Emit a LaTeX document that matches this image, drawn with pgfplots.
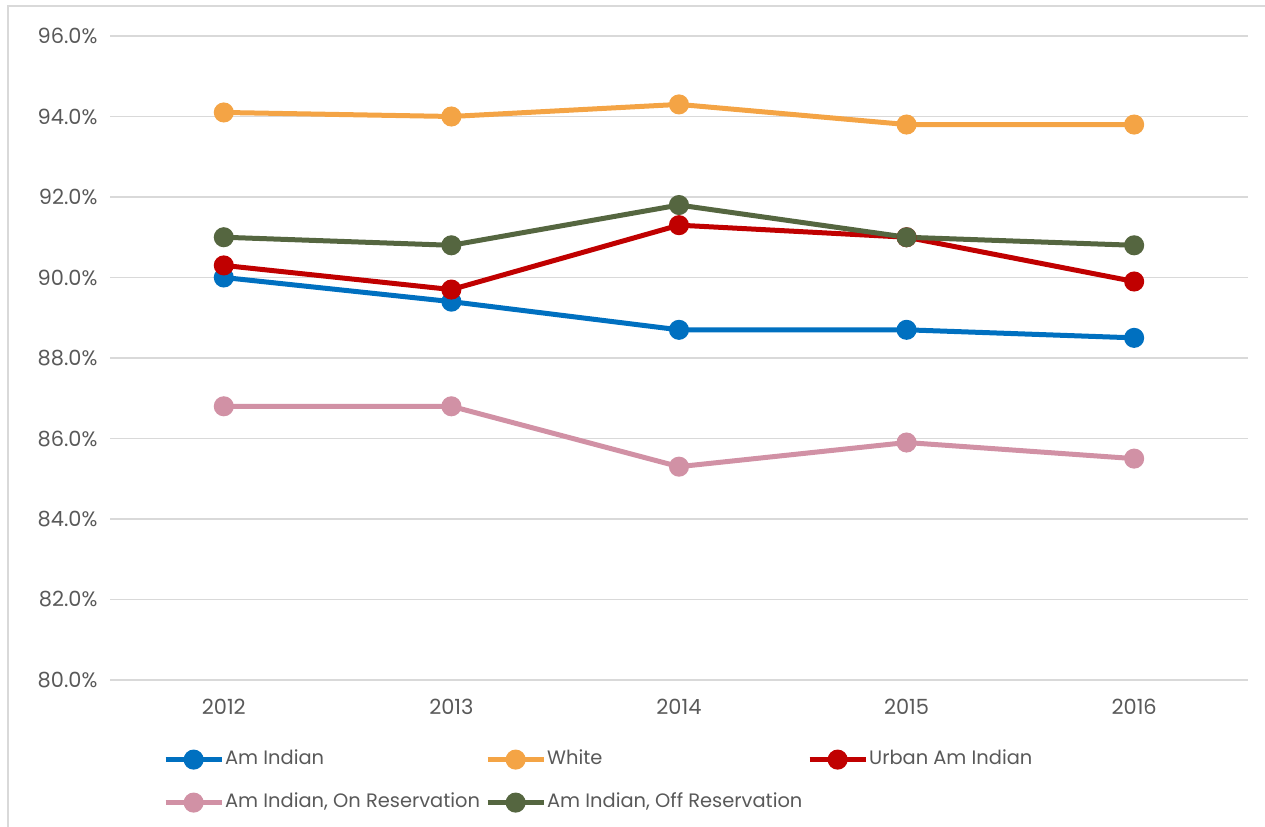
\documentclass[border=0pt]{standalone}
\usepackage{pgfplots}
\pgfplotsset{compat=1.18}
\usepackage{fontspec}
\setmainfont{Poppins}
\definecolor{cblue}{HTML}{0070C0}
\definecolor{corange}{HTML}{F4A445}
\definecolor{cred}{HTML}{C00000}
\definecolor{cpink}{HTML}{D191A5}
\definecolor{cgreen}{HTML}{556640}
\definecolor{gridc}{HTML}{D9D9D9}
\definecolor{txt}{HTML}{595959}
\begin{document}
\begin{tikzpicture}[x=1bp,y=1bp]
\useasboundingbox (0,0) rectangle (1265,827);
\draw[gridc, line width=1.5bp] (8,0) -- (8,821) -- (1265,821);
\begin{axis}[at={(110bp,147bp)}, anchor=south west, scale only axis,
 width=1138bp, height=644bp,
 xmin=-0.5, xmax=4.5, ymin=80, ymax=96,
 xtick={0,1,2,3,4}, xticklabels={2012,2013,2014,2015,2016},
 ytick={80,82,84,86,88,90,92,94,96},
 yticklabels={80.0\%,82.0\%,84.0\%,86.0\%,88.0\%,90.0\%,92.0\%,94.0\%,96.0\%},
 axis line style={draw=none}, major tick length=0,
 ymajorgrids, grid style={gridc, line width=1.5bp},
 tick label style={font=\fontsize{21}{25}\selectfont, text=txt},
 yticklabel style={xshift=-9bp},
 xticklabel style={yshift=-16bp},
 every axis plot/.append style={line width=5bp, mark=*, mark size=7.5bp},
 legend columns=3,
 legend image code/.code={\draw[#1, mark repeat=2, mark phase=2] plot coordinates {(0bp,0bp) (28bp,0bp) (56bp,0bp)};},
 legend style={draw=none, fill=none, at={(0.0439,-0.107)}, anchor=north west,
   font=\fontsize{19.5}{23}\selectfont, text=txt,
   nodes={inner sep=0pt, text height=13bp, text depth=4bp},
   column sep=1bp, row sep=26bp},
]
\addplot[cblue, mark options={draw=none, fill=cblue}] coordinates {(0,90.0) (1,89.4) (2,88.7) (3,88.7) (4,88.5)};
\addlegendentry{\makebox[259bp][l]{Am Indian}}
\addplot[corange, mark options={draw=none, fill=corange}] coordinates {(0,94.1) (1,94.0) (2,94.3) (3,93.8) (4,93.8)};
\addlegendentry{\makebox[259bp][l]{White}}
\addplot[cred, mark options={draw=none, fill=cred}] coordinates {(0,90.3) (1,89.7) (2,91.3) (3,91.0) (4,89.9)};
\addlegendentry{\makebox[259bp][l]{Urban Am Indian}}
\addplot[cpink, mark options={draw=none, fill=cpink}] coordinates {(0,86.8) (1,86.8) (2,85.3) (3,85.9) (4,85.5)};
\addlegendentry{\makebox[259bp][l]{Am Indian, On Reservation}}
\addplot[cgreen, mark options={draw=none, fill=cgreen}] coordinates {(0,91.0) (1,90.8) (2,91.8) (3,91.0) (4,90.8)};
\addlegendentry{\makebox[259bp][l]{Am Indian, Off Reservation}}
\end{axis}
\end{tikzpicture}
\end{document}
